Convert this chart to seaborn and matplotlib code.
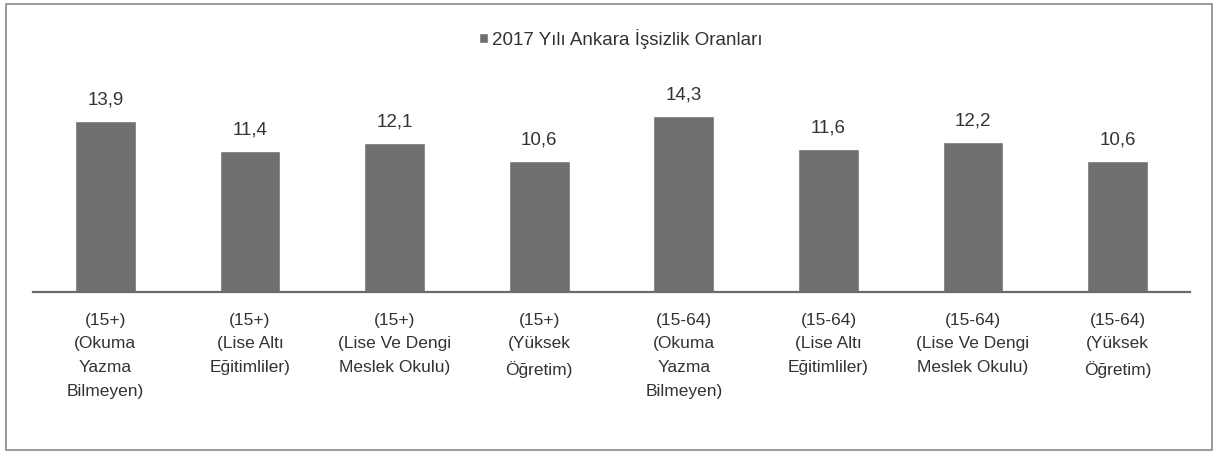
import matplotlib
matplotlib.use("Agg")
import matplotlib.pyplot as plt
from matplotlib.patches import Rectangle
import seaborn as sns
import pandas as pd

categories = [
    "(15+)\n(Okuma\nYazma\nBilmeyen)",
    "(15+)\n(Lise Altı\nEğitimliler)",
    "(15+)\n(Lise Ve Dengi\nMeslek Okulu)",
    "(15+)\n(Yüksek\nÖğretim)",
    "(15-64)\n(Okuma\nYazma\nBilmeyen)",
    "(15-64)\n(Lise Altı\nEğitimliler)",
    "(15-64)\n(Lise Ve Dengi\nMeslek Okulu)",
    "(15-64)\n(Yüksek\nÖğretim)",
]
values = [13.9, 11.4, 12.1, 10.6, 14.3, 11.6, 12.2, 10.6]
series_name = "2017 Yılı Ankara İşsizlik Oranları"

sns.set_theme(style="white")
plt.rcParams["font.family"] = ["Liberation Sans", "DejaVu Sans"]

text_color = "#333333"
bar_color = "#6e7070"

W, H = 1218, 453
fig = plt.figure(figsize=(W / 100, H / 100), dpi=100)
ax = fig.add_axes([33 / W, 1 - 292 / H, (1190 - 33) / W, (292 - 70) / H])

df = pd.DataFrame({"cat": categories, "val": values})
sns.barplot(data=df, x="cat", y="val", color=bar_color, width=0.42,
            saturation=1, label=series_name, legend=False, ax=ax)
if ax.get_legend() is not None:
    ax.get_legend().remove()

ax.set_ylim(0, 18)
ax.set_xlim(-0.5, len(categories) - 0.5)
ax.set_xlabel("")
ax.set_ylabel("")
ax.set_yticks([])
for s in ["left", "right", "top"]:
    ax.spines[s].set_visible(False)
ax.spines["bottom"].set_color("#6a6a6a")
ax.spines["bottom"].set_linewidth(1.6)
ax.tick_params(axis="x", length=0, pad=15, labelsize=12.5, labelcolor=text_color)
for lbl in ax.get_xticklabels():
    lbl.set_linespacing(1.72)

ax.bar_label(ax.containers[0], labels=[f"{v:.1f}".replace(".", ",") for v in values],
             padding=9, fontsize=13.5, color=text_color)

handles, labels = ax.get_legend_handles_labels()
fig.legend(handles, labels, loc="center", bbox_to_anchor=(621 / W, 1 - 39 / H),
           frameon=False, fontsize=13.5, labelcolor=text_color,
           handlelength=0.45, handleheight=0.45, handletextpad=0.25)

fig.add_artist(Rectangle((6 / W, 3 / H), (1212 - 6) / W, (449 - 3) / H,
                         transform=fig.transFigure, fill=False,
                         edgecolor="#8a8a8a", linewidth=1.2))

fig.savefig("out.png", dpi=100, facecolor="white")
